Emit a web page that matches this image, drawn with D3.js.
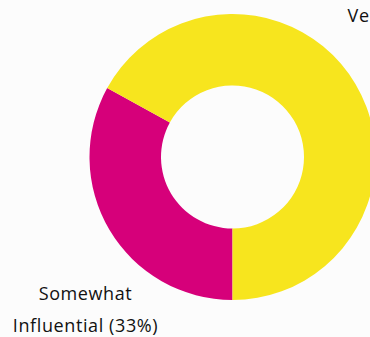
<!DOCTYPE html>
<html>
<head>
<meta charset="utf-8">
<script src="https://cdn.jsdelivr.net/npm/d3@7"></script>
<style>
  html, body { margin: 0; padding: 0; background: #fcfcfc; overflow: hidden; }
  svg { display: block; }
</style>
</head>
<body>
<svg id="chart" width="370" height="337"></svg>
<script>
// Share of respondents by perceived influence
const categories = ["Somewhat Influential", "Very Influential"];
const values = [33, 67];
const labelLines = [["Somewhat", "Influential (33%)"], ["Very Influential", "(67%)"]];
const colors = ["#d6007a", "#f7e51e"];

const width = 370, height = 337;
const cx = 232.5, cy = 157;
const outerR = 143, innerR = 71.5;

const svg = d3.select("#chart");

const pie = d3.pie()
  .sort(null)
  .value(d => d)
  .startAngle(Math.PI)
  .endAngle(3 * Math.PI);

const arc = d3.arc().innerRadius(innerR).outerRadius(outerR);

const color = d3.scaleOrdinal().domain(categories).range(colors);

const g = svg.append("g").attr("transform", `translate(${cx},${cy})`);

const arcs = pie(values);

g.selectAll("path.slice")
  .data(arcs)
  .join("path")
  .attr("class", "slice")
  .attr("d", arc)
  .attr("fill", (d, i) => color(categories[i]));

// Label blocks sit outside the ring, offset along each slice's side
const labelOffsets = [
  { dx: -147, dy: 143 },
  { dx: 183, dy: -135 }
];
const lineH = 32;

g.selectAll("text.label")
  .data(arcs)
  .join("text")
  .attr("class", "label")
  .attr("text-anchor", "middle")
  .attr("font-family", "'Open Sans', sans-serif")
  .attr("font-size", 18)
  .attr("letter-spacing", 0.6)
  .attr("fill", "#111")
  .attr("transform", (d, i) => `translate(${labelOffsets[i].dx},${labelOffsets[i].dy})`)
  .each(function (d, i) {
    d3.select(this).selectAll("tspan")
      .data(labelLines[i])
      .join("tspan")
      .attr("x", 0)
      .attr("y", (t, j) => j * lineH)
      .text(t => t);
  });
</script>
</body>
</html>
